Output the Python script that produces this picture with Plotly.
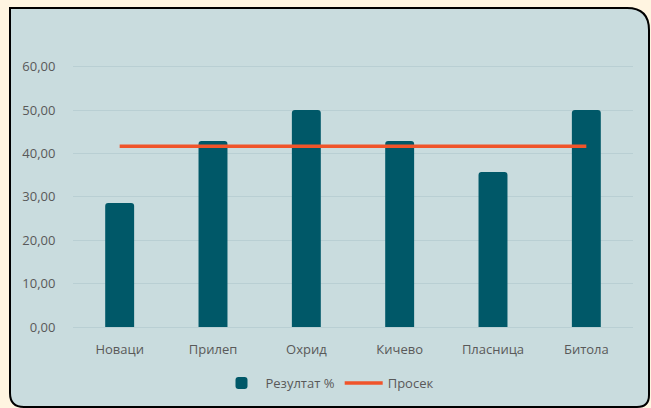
import plotly.graph_objects as go

categories = ["Новаци", "Прилеп", "Охрид", "Кичево", "Пласница", "Битола"]
result_pct = [28.57, 42.86, 50.00, 42.86, 35.71, 50.00]
average = [41.67] * 6
series_names = ["Резултат %", "Просек"]

W, H = 651, 408
ML, MR, MT, MB = 73, 18, 45, 81
PW, PH = W - ML - MR, H - MT - MB


def px(x):
    return (x - ML) / PW


def py(y):
    return (H - MB - y) / PH


# rounded panel path (pixel -> paper)
L, T, R, B = 10, 8, 649, 407
r_tr, r_br, r_bl = 22, 12, 14
path = (
    f"M {px(L)},{py(T)} "
    f"L {px(R - r_tr)},{py(T)} "
    f"Q {px(R)},{py(T)} {px(R)},{py(T + r_tr)} "
    f"L {px(R)},{py(B - r_br)} "
    f"Q {px(R)},{py(B)} {px(R - r_br)},{py(B)} "
    f"L {px(L + r_bl)},{py(B)} "
    f"Q {px(L)},{py(B)} {px(L)},{py(B - r_bl)} Z"
)

fig = go.Figure()
fig.add_trace(go.Bar(
    x=categories, y=result_pct, name=series_names[0],
    marker=dict(color="#005868", cornerradius=3, line=dict(width=0)),
))
fig.add_trace(go.Scatter(
    x=categories, y=average, name=series_names[1], mode="lines",
    line=dict(color="#F0542A", width=3.5),
))

fig.update_layout(
    width=W, height=H,
    margin=dict(l=ML, r=MR, t=MT, b=MB, autoexpand=False),
    paper_bgcolor="#FFF5E1",
    plot_bgcolor="rgba(0,0,0,0)",
    bargap=0.69,
    font=dict(family="Open Sans", size=13, color="#595959"),
    separators=",.",
    showlegend=True,
    legend=dict(orientation="h", x=px(328), xanchor="center", y=py(383), yanchor="middle",
                itemwidth=38, tracegroupgap=0,
                font=dict(size=13, color="#595959"), bgcolor="rgba(0,0,0,0)"),
    shapes=[dict(type="path", path=path, xref="paper", yref="paper",
                 fillcolor="#C9DCDE", line=dict(color="black", width=2), layer="below")],
    xaxis=dict(showgrid=False, showline=False, ticks="outside", ticklen=10,
               tickcolor="rgba(0,0,0,0)", tickfont=dict(size=13, color="#595959")),
    yaxis=dict(range=[0, 65], dtick=10, tickformat=".2f", showgrid=True,
               gridcolor="#B9CFD3", gridwidth=1, zeroline=True, zerolinecolor="#B9CFD3",
               zerolinewidth=1, ticks="outside", ticklen=14, tickcolor="rgba(0,0,0,0)",
               tickfont=dict(size=13, color="#595959")),
)

fig.write_html(
    "out.html",
    config={"displayModeBar": False},
    post_script="document.body.style.margin='0';document.body.style.background='#FFF5E1';"
                "document.body.style.overflow='hidden';",
)
